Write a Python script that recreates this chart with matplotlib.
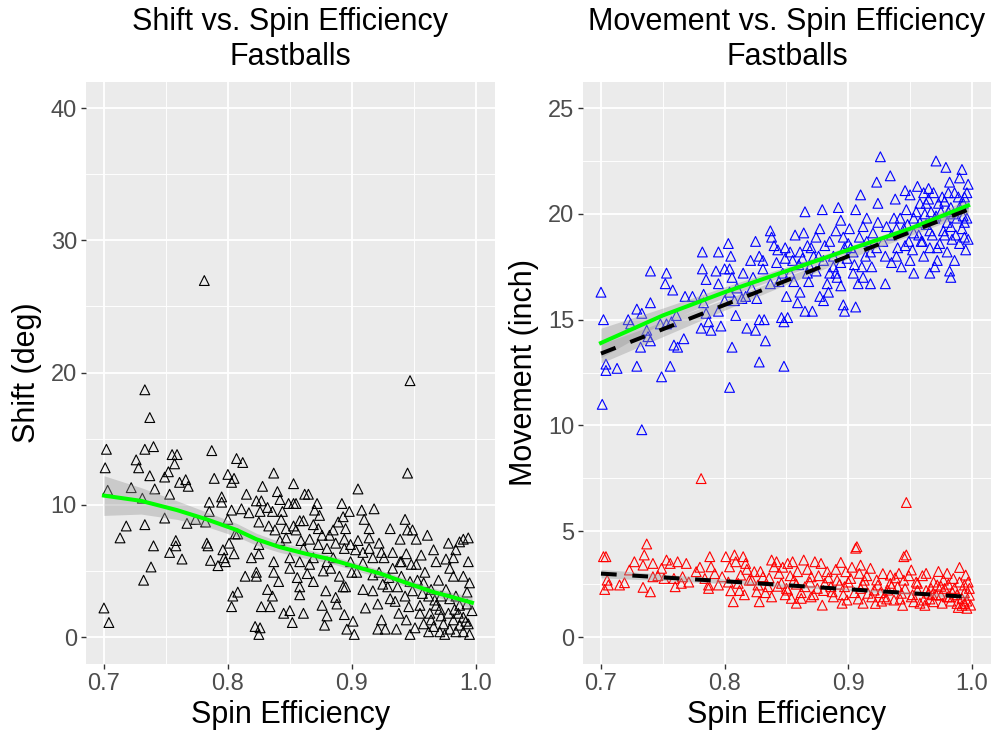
#!/usr/bin/env python3

"""
Shift and movement vs. spin efficiency for fastballs, ggplot-like look.
"""

import numpy as np
import matplotlib
matplotlib.use("Agg")
import matplotlib.pyplot as plt


FIGSIZE = (9.95, 7.31)
DPI = 100

X_TICKS = [0.7, 0.8, 0.9, 1.0]
X_TICK_LABELS = ["0.7", "0.8", "0.9", "1.0"]
SHIFT_TICKS = [0, 10, 20, 30, 40]
MOVE_TICKS = [0, 5, 10, 15, 20, 25]

# (spin efficiency, shift deg)
SHIFT_PTS = np.array([
    (0.781, 26.96), (0.947, 19.39), (0.733, 18.7), (0.737, 16.6), (0.945, 12.4),
    (0.700, 2.2), (0.704, 1.1), (0.702, 14.2), (0.701, 12.8), (0.703, 11.1),
    (0.740, 14.4), (0.733, 14.2), (0.726, 13.4), (0.728, 12.8), (0.737, 12.2),
    (0.722, 11.3), (0.731, 10.5), (0.741, 11.2), (0.718, 8.4), (0.713, 7.5),
    (0.733, 8.5), (0.740, 6.9), (0.738, 5.3), (0.732, 4.3), (0.749, 9.0),
    (0.749, 12.1), (0.752, 12.5), (0.755, 13.8), (0.759, 13.8), (0.757, 13.1),
    (0.753, 10.8), (0.761, 11.7), (0.766, 11.9), (0.768, 11.4), (0.758, 7.3),
    (0.758, 6.9), (0.753, 6.4), (0.763, 5.9), (0.767, 8.6), (0.774, 8.9),
    (0.782, 8.7), (0.787, 14.1), (0.789, 12.0), (0.785, 10.2), (0.785, 9.5),
    (0.783, 7.1), (0.784, 6.9), (0.786, 5.8), (0.792, 5.4), (0.795, 10.6),
    (0.795, 10.2), (0.800, 12.3), (0.803, 11.7), (0.805, 12.0), (0.807, 13.5),
    (0.812, 13.2), (0.803, 9.6), (0.800, 8.9), (0.796, 6.6), (0.801, 7.1),
    (0.805, 6.3), (0.798, 5.7), (0.797, 6.0), (0.806, 7.8), (0.808, 7.8),
    (0.811, 9.7), (0.815, 10.8), (0.817, 9.4), (0.804, 3.1), (0.803, 2.3),
    (0.808, 3.4), (0.814, 4.6), (0.819, 6.0), (0.823, 4.9), (0.823, 4.6),
    (0.825, 7.0), (0.825, 6.3), (0.823, 10.3), (0.827, 10.3), (0.826, 9.5),
    (0.828, 11.4), (0.825, 8.7), (0.832, 9.8), (0.833, 8.4), (0.836, 9.5),
    (0.837, 12.4), (0.840, 11.0), (0.842, 10.4), (0.844, 9.5), (0.843, 8.9),
    (0.838, 8.1), (0.842, 7.3), (0.847, 8.2), (0.850, 6.0), (0.850, 5.2),
    (0.837, 5.7), (0.837, 4.9), (0.841, 4.2), (0.832, 3.6), (0.836, 3.1),
    (0.834, 2.3), (0.827, 2.3), (0.822, 0.8), (0.826, 0.7), (0.825, 0.2),
    (0.845, 1.8), (0.850, 2.0), (0.852, 1.1), (0.861, 1.8), (0.853, 11.6),
    (0.853, 10.1), (0.849, 10.1), (0.855, 10.1), (0.858, 8.8), (0.862, 10.8),
    (0.865, 10.8), (0.861, 8.8), (0.855, 8.1), (0.859, 7.3), (0.866, 7.4),
    (0.858, 5.7), (0.856, 4.5), (0.858, 3.8), (0.858, 3.2), (0.864, 4.8),
    (0.866, 5.5), (0.869, 4.2), (0.872, 10.1), (0.870, 9.6), (0.874, 9.2),
    (0.873, 8.2), (0.876, 7.7), (0.880, 6.7), (0.877, 5.0), (0.879, 3.5),
    (0.876, 2.4), (0.880, 1.6), (0.878, 0.9), (0.883, 5.2), (0.885, 8.1),
    (0.887, 7.1), (0.889, 8.7), (0.892, 10.1), (0.893, 9.1), (0.895, 8.2),
    (0.898, 9.5), (0.894, 6.7), (0.890, 4.6), (0.893, 3.8), (0.895, 3.8),
    (0.888, 2.5), (0.894, 1.7), (0.896, 0.6), (0.901, 1.2), (0.902, 0.2),
    (0.905, 11.2), (0.908, 9.6), (0.910, 8.9), (0.914, 8.2), (0.918, 9.7),
    (0.903, 6.6), (0.909, 6.4), (0.900, 4.9), (0.904, 4.9), (0.909, 3.6),
    (0.914, 7.5), (0.917, 6.0), (0.917, 3.5), (0.921, 2.5), (0.924, 1.3),
    (0.927, 0.6), (0.921, 0.6), (0.924, 6.4), (0.926, 6.0), (0.931, 8.2),
    (0.933, 6.4), (0.930, 4.5), (0.929, 3.8), (0.935, 2.7), (0.936, 0.6),
    (0.939, 7.4), (0.943, 8.9), (0.945, 8.1), (0.949, 8.1), (0.952, 7.4),
    (0.961, 7.7), (0.940, 5.7), (0.944, 6.3), (0.948, 5.5), (0.952, 5.5),
    (0.956, 6.2), (0.940, 4.6), (0.947, 4.2), (0.938, 1.8), (0.947, 0.2),
    (0.944, 1.3), (0.951, 0.7), (0.955, 2.4), (0.958, 4.1), (0.962, 3.1),
    (0.963, 1.8), (0.962, 0.4), (0.966, 6.6), (0.968, 5.7), (0.970, 4.3),
    (0.967, 2.8), (0.971, 2.1), (0.974, 1.0), (0.975, 0.2), (0.978, 7.1),
    (0.979, 5.2), (0.982, 4.6), (0.984, 6.6), (0.987, 7.2), (0.990, 7.4),
    (0.994, 7.5), (0.994, 5.7), (0.995, 4.1), (0.993, 3.4), (0.997, 2.0),
    (0.994, 1.0), (0.995, 0.2), (0.990, 0.4), (0.984, 0.4), (0.982, 1.3),
    (0.979, 2.9), (0.987, 2.4), (0.990, 4.6), (0.976, 3.6), (0.972, 3.1),
    (0.976, 5.9), (0.982, 6.0), (0.959, 4.9), (0.953, 4.3), (0.964, 3.6),
    (0.968, 2.4), (0.964, 1.3), (0.958, 1.0), (0.990, 1.5), (0.993, 2.5),
    (0.984, 3.1), (0.983, 2.1), (0.978, 1.8), (0.987, 0.9), (0.979, 0.6),
    (0.971, 0.4), (0.869, 8.5), (0.873, 7.0), (0.882, 7.7), (0.885, 6.0),
    (0.894, 7.4), (0.899, 7.0), (0.905, 7.3), (0.899, 5.7), (0.909, 5.6),
    (0.917, 4.7), (0.922, 4.9), (0.925, 4.0), (0.933, 5.2), (0.937, 3.8),
    (0.943, 3.1), (0.949, 3.5), (0.955, 1.8), (0.861, 6.7), (0.853, 8.4),
    (0.847, 7.5), (0.869, 6.0), (0.880, 5.7), (0.914, 6.7), (0.922, 7.1),
    (0.939, 5.7), (0.972, 1.6), (0.986, 1.8), (0.992, 1.2), (0.966, 0.8),
    (0.957, 3.3), (0.946, 2.3), (0.931, 2.9), (0.911, 2.2), (0.887, 3.0),
])

# loess fit of shift, with its standard error band
SHIFT_FIT_X = [0.700, 0.730, 0.759, 0.783, 0.807, 0.823, 0.842, 0.863,
               0.882, 0.904, 0.923, 0.944, 0.966, 0.982, 0.997]
SHIFT_FIT_Y = [10.7, 10.3, 9.6, 8.9, 8.1, 7.4, 6.8, 6.3,
               5.9, 5.3, 4.8, 4.1, 3.4, 3.0, 2.6]
SHIFT_FIT_SE = [1.5, 1.0, 0.7, 0.55, 0.5, 0.45, 0.4, 0.35,
                0.3, 0.3, 0.3, 0.3, 0.3, 0.35, 0.45]

# (spin efficiency, movement inch) - upper group
BLUE_PTS = np.array([
    (0.701, 11.0), (0.733, 9.8), (0.804, 11.8), (0.700, 16.3), (0.702, 15.0),
    (0.704, 12.9), (0.704, 12.6), (0.713, 12.7), (0.729, 12.8), (0.749, 12.3),
    (0.756, 12.8), (0.828, 13.0), (0.848, 12.8), (0.806, 13.7), (0.732, 13.7),
    (0.740, 14.0), (0.738, 14.2), (0.759, 13.8), (0.762, 13.7), (0.767, 14.1),
    (0.737, 14.5), (0.722, 15.0), (0.724, 14.8), (0.729, 15.5), (0.733, 15.3),
    (0.740, 15.8), (0.740, 17.3), (0.753, 17.2), (0.752, 16.7), (0.758, 16.4),
    (0.748, 14.8), (0.753, 14.8), (0.757, 14.9), (0.761, 15.2), (0.768, 16.1),
    (0.774, 16.1), (0.782, 18.2), (0.782, 17.4), (0.785, 16.9), (0.783, 16.2),
    (0.783, 15.8), (0.785, 15.3), (0.781, 14.6), (0.787, 14.9), (0.789, 14.5),
    (0.795, 18.2), (0.793, 17.3), (0.795, 16.7), (0.795, 15.4), (0.797, 14.7),
    (0.803, 18.6), (0.805, 18.0), (0.800, 17.4), (0.804, 17.4), (0.806, 17.0),
    (0.804, 16.3), (0.808, 15.9), (0.809, 15.2), (0.800, 15.9), (0.815, 17.2),
    (0.814, 16.0), (0.818, 14.6), (0.821, 17.8), (0.822, 16.5), (0.825, 18.7),
    (0.825, 14.5), (0.828, 15.0), (0.826, 16.0), (0.828, 18.0), (0.831, 17.4),
    (0.833, 14.0), (0.832, 15.0), (0.837, 19.2), (0.838, 18.9), (0.840, 18.5),
    (0.837, 16.7), (0.842, 17.7), (0.844, 16.8), (0.846, 15.1), (0.848, 14.9),
    (0.851, 15.1), (0.850, 16.1), (0.849, 17.9), (0.849, 18.4), (0.853, 17.2),
    (0.856, 16.8), (0.859, 15.8), (0.861, 16.3), (0.857, 19.0), (0.861, 18.2),
    (0.864, 19.1), (0.865, 20.1), (0.867, 18.5), (0.869, 17.5), (0.871, 15.4),
    (0.865, 15.4), (0.872, 18.0), (0.874, 18.9), (0.877, 19.3), (0.879, 20.2),
    (0.881, 18.5), (0.883, 16.7), (0.877, 16.1), (0.880, 15.9), (0.885, 17.2),
    (0.888, 18.0), (0.890, 19.2), (0.892, 20.3), (0.894, 19.7), (0.896, 18.9),
    (0.894, 16.6), (0.896, 15.7), (0.897, 15.4), (0.899, 17.9), (0.901, 19.3),
    (0.902, 18.4), (0.904, 17.2), (0.906, 20.2), (0.906, 15.6), (0.908, 16.7),
    (0.910, 20.9), (0.912, 19.4), (0.914, 18.0), (0.918, 16.7), (0.919, 17.5),
    (0.920, 19.1), (0.923, 21.5), (0.924, 20.5), (0.926, 22.7), (0.924, 19.6),
    (0.928, 18.7), (0.930, 18.0), (0.930, 16.7), (0.934, 21.8), (0.935, 17.7),
    (0.938, 20.7), (0.939, 19.3), (0.940, 18.4), (0.943, 17.5), (0.946, 21.1),
    (0.947, 20.2), (0.949, 18.7), (0.950, 17.8), (0.953, 17.2), (0.956, 21.3),
    (0.958, 19.6), (0.959, 18.7), (0.961, 18.0), (0.963, 20.5), (0.965, 21.2),
    (0.966, 19.2), (0.969, 21.0), (0.971, 22.5), (0.970, 17.5), (0.971, 19.9),
    (0.974, 18.6), (0.976, 20.8), (0.979, 22.2), (0.980, 19.6), (0.982, 17.3),
    (0.983, 17.0), (0.982, 21.5), (0.984, 18.8), (0.986, 21.0), (0.990, 21.7),
    (0.992, 22.1), (0.993, 20.5), (0.994, 19.6), (0.995, 18.3), (0.996, 21.0),
    (0.997, 21.4), (0.994, 18.9), (0.988, 19.8), (0.981, 20.1), (0.977, 19.2),
    (0.966, 18.4), (0.958, 20.5), (0.953, 19.1), (0.945, 19.3), (0.937, 19.8),
    (0.931, 19.4), (0.923, 18.4), (0.915, 18.7), (0.911, 17.5), (0.904, 18.2),
    (0.900, 18.6), (0.894, 17.7), (0.890, 17.2), (0.885, 18.7), (0.880, 17.8),
    (0.874, 17.3), (0.870, 18.4), (0.867, 17.2), (0.863, 17.9), (0.853, 18.2),
    (0.847, 17.2), (0.843, 18.3), (0.831, 17.8), (0.823, 17.0), (0.817, 16.1),
    (0.810, 16.5), (0.962, 20.0), (0.967, 20.1), (0.973, 20.5), (0.978, 20.6),
    (0.983, 20.3), (0.989, 20.8), (0.993, 19.9), (0.953, 19.8), (0.946, 18.5),
    (0.939, 18.0), (0.950, 20.9), (0.961, 21.0), (0.990, 18.6), (0.980, 18.2),
    (0.966, 17.2), (0.915, 19.8), (0.909, 18.9), (0.897, 18.4), (0.891, 17.0),
    (0.884, 16.3), (0.935, 19.0), (0.942, 19.8), (0.948, 19.5), (0.952, 18.3),
    (0.955, 20.1), (0.957, 19.0), (0.960, 18.7), (0.963, 19.5), (0.965, 20.7),
    (0.968, 19.0), (0.970, 19.8), (0.972, 18.4), (0.975, 20.1), (0.978, 19.0),
    (0.981, 21.0), (0.983, 19.4), (0.985, 20.0), (0.987, 19.0), (0.990, 20.3),
    (0.992, 19.3), (0.994, 20.8), (0.996, 19.8), (0.997, 18.8), (0.986, 17.8),
    (0.972, 17.8), (0.918, 18.2), (0.912, 17.0), (0.905, 17.6), (0.888, 17.5),
    (0.876, 18.0), (0.868, 16.8), (0.860, 17.6), (0.855, 17.8),
])

# (spin efficiency, movement inch) - lower group
RED_PTS = np.array([
    (0.781, 7.49), (0.947, 6.36), (0.737, 4.4), (0.906, 4.2), (0.945, 3.8),
    (0.702, 3.8), (0.704, 3.80), (0.703, 2.25), (0.706, 2.46), (0.705, 2.69),
    (0.715, 2.46), (0.719, 2.57), (0.727, 3.56), (0.723, 3.17), (0.734, 2.35),
    (0.735, 3.88), (0.740, 2.14), (0.742, 2.85), (0.742, 3.48), (0.734, 3.40),
    (0.749, 3.25), (0.753, 3.64), (0.751, 2.77), (0.756, 3.48), (0.759, 2.77),
    (0.760, 2.38), (0.762, 3.56), (0.766, 2.85), (0.769, 3.48), (0.765, 2.54),
    (0.777, 3.09), (0.784, 2.77), (0.787, 2.46), (0.788, 3.80), (0.789, 3.32),
    (0.787, 2.30), (0.795, 2.46), (0.798, 2.85), (0.801, 3.80), (0.804, 3.32),
    (0.805, 2.19), (0.807, 1.67), (0.808, 3.88), (0.809, 3.56), (0.811, 2.54),
    (0.815, 3.80), (0.817, 3.48), (0.813, 2.93), (0.820, 2.69), (0.824, 3.09),
    (0.826, 2.14), (0.828, 1.67), (0.827, 2.46), (0.831, 2.85), (0.835, 2.38),
    (0.838, 3.64), (0.840, 3.32), (0.842, 3.56), (0.844, 3.01), (0.846, 2.54),
    (0.838, 1.90), (0.850, 2.30), (0.907, 4.27), (0.947, 3.88), (0.851, 3.48),
    (0.855, 3.56), (0.864, 3.64), (0.873, 3.56), (0.878, 3.48), (0.894, 3.53),
    (0.910, 3.40), (0.918, 3.25), (0.934, 2.93), (0.951, 3.17), (0.963, 3.01),
    (0.990, 3.29), (0.995, 2.93), (0.879, 1.51), (0.922, 1.59), (0.854, 1.83),
    (0.862, 1.83), (0.887, 2.14), (0.899, 1.75), (0.916, 2.07), (0.929, 1.90),
    (0.940, 2.38), (0.951, 1.90), (0.961, 1.75), (0.972, 2.46), (0.980, 1.90),
    (0.988, 1.59), (0.996, 1.36), (0.999, 1.51), (0.856, 2.69), (0.870, 2.85),
    (0.881, 2.54), (0.891, 2.69), (0.902, 2.77), (0.913, 2.69), (0.924, 2.46),
    (0.934, 2.54), (0.945, 2.69), (0.956, 2.54), (0.967, 2.30), (0.977, 2.69),
    (0.985, 2.77), (0.994, 2.46), (0.998, 1.98), (0.992, 1.83), (0.984, 2.14),
    (0.975, 1.98), (0.965, 2.07), (0.956, 2.22), (0.943, 2.07), (0.932, 2.22),
    (0.921, 2.22), (0.910, 2.30), (0.897, 2.38), (0.886, 2.38), (0.875, 2.30),
    (0.865, 2.38), (0.851, 2.22), (0.859, 3.09), (0.883, 3.09), (0.898, 3.09),
    (0.909, 3.01), (0.941, 3.01), (0.980, 3.01), (0.969, 1.67), (0.953, 1.67),
    (0.937, 1.75), (0.994, 1.59), (0.998, 2.30), (0.853, 2.9), (0.858, 2.5),
    (0.862, 2.1), (0.867, 3.2), (0.869, 2.6), (0.872, 2.0), (0.876, 2.9),
    (0.880, 2.2), (0.884, 2.8), (0.888, 1.9), (0.890, 3.2), (0.893, 2.5),
    (0.896, 2.0), (0.900, 2.6), (0.903, 3.3), (0.905, 2.1), (0.908, 1.8),
    (0.912, 2.5), (0.915, 2.9), (0.919, 1.9), (0.923, 2.7), (0.926, 2.1),
    (0.928, 3.0), (0.931, 1.8), (0.935, 2.4), (0.938, 2.8), (0.942, 1.8),
    (0.946, 2.3), (0.949, 2.9), (0.952, 2.0), (0.955, 2.6), (0.958, 1.6),
    (0.960, 2.9), (0.963, 2.2), (0.966, 1.8), (0.969, 2.6), (0.971, 2.0),
    (0.973, 3.1), (0.976, 1.6), (0.978, 2.3), (0.981, 2.5), (0.983, 1.7),
    (0.986, 2.3), (0.988, 2.0), (0.990, 2.6), (0.992, 1.5), (0.994, 2.1),
    (0.996, 1.7), (0.997, 2.6), (0.989, 1.4), (0.982, 1.9), (0.975, 2.4),
    (0.968, 2.0), (0.962, 1.5), (0.944, 1.5), (0.927, 1.7), (0.912, 1.6),
    (0.895, 1.6), (0.870, 1.9), (0.858, 1.6), (0.746, 2.9), (0.771, 2.6),
    (0.780, 3.3), (0.792, 3.0), (0.812, 2.2), (0.818, 3.2), (0.822, 2.7),
    (0.829, 3.1), (0.833, 2.1), (0.836, 2.8), (0.843, 2.4), (0.847, 3.3),
    (0.849, 2.0), (0.816, 2.0), (0.803, 2.6),
])

# fits on the movement panel
BLUE_LOESS_X = [0.70, 0.75, 0.80, 0.85, 0.90, 0.95, 0.997]
BLUE_LOESS_Y = [13.9, 15.2, 16.3, 17.3, 18.3, 19.3, 20.4]
BLUE_LOESS_SE = [0.7, 0.35, 0.25, 0.2, 0.15, 0.15, 0.3]

BLUE_LM_X = [0.70, 0.80, 0.90, 0.997]
BLUE_LM_Y = [13.4, 15.7, 18.0, 20.2]
BLUE_LM_SE = [0.45, 0.25, 0.12, 0.2]

RED_LM_X = [0.70, 0.80, 0.90, 0.997]
RED_LM_Y = [3.0, 2.64, 2.26, 1.9]
RED_LM_SE = [0.2, 0.1, 0.05, 0.08]

BG = "#EBEBEB"
RIBBON = "#999999"
MARKER_SIZE = 50


def style(ax, yticks, minor_step, ylim):
    ax.set_facecolor(BG)
    for sp in ax.spines.values():
        sp.set_visible(False)
    ax.set_xlim(0.6855, 1.0155)
    ax.set_ylim(*ylim)
    ax.set_xticks(X_TICKS)
    ax.set_xticklabels(X_TICK_LABELS)
    ax.set_yticks(yticks)
    ax.set_xticks([0.75, 0.85, 0.95], minor=True)
    ax.set_yticks(np.arange(minor_step, yticks[-1], 2 * minor_step), minor=True)
    ax.grid(which="major", color="white", lw=1.3)
    ax.grid(which="minor", color="white", lw=0.65)
    ax.set_axisbelow(True)
    ax.tick_params(which="minor", length=0)
    ax.tick_params(which="major", length=3.5, width=1.0, color="#333333",
                   labelcolor="#4D4D4D", labelsize=17, pad=3)


def ribbon(ax, x, y, se):
    y = np.asarray(y)
    se = np.asarray(se)
    ax.fill_between(x, y - se, y + se, color=RIBBON, alpha=0.4, lw=0, zorder=3)


def main():
    plt.rcParams["font.family"] = ["Liberation Sans", "DejaVu Sans"]
    fig = plt.figure(figsize=FIGSIZE, dpi=DPI)

    ax1 = fig.add_axes([0.0864, 0.0923, 0.411, 0.796])
    style(ax1, SHIFT_TICKS, 5, (-2, 42))
    ax1.scatter(SHIFT_PTS[:, 0], SHIFT_PTS[:, 1], marker="^", s=MARKER_SIZE,
                facecolors="none", edgecolors="black", linewidths=0.8, zorder=2)
    ribbon(ax1, SHIFT_FIT_X, SHIFT_FIT_Y, SHIFT_FIT_SE)
    ax1.plot(SHIFT_FIT_X, SHIFT_FIT_Y, color="#00FF00", lw=2.9, zorder=4)
    ax1.set_title("Shift vs. Spin Efficiency\nFastballs", fontsize=22, pad=12)
    ax1.set_xlabel("Spin Efficiency", fontsize=22, labelpad=4)
    ax1.set_ylabel("Shift (deg)", fontsize=22, labelpad=6)

    ax2 = fig.add_axes([0.586, 0.0923, 0.410, 0.796])
    style(ax2, MOVE_TICKS, 2.5, (-1.25, 26.25))
    ax2.scatter(BLUE_PTS[:, 0], BLUE_PTS[:, 1], marker="^", s=MARKER_SIZE,
                facecolors="none", edgecolors="#0000FF", linewidths=0.8, zorder=2)
    ax2.scatter(RED_PTS[:, 0], RED_PTS[:, 1], marker="^", s=MARKER_SIZE,
                facecolors="none", edgecolors="#FF0000", linewidths=0.8, zorder=2)
    ribbon(ax2, BLUE_LOESS_X, BLUE_LOESS_Y, BLUE_LOESS_SE)
    ribbon(ax2, BLUE_LM_X, BLUE_LM_Y, BLUE_LM_SE)
    ribbon(ax2, RED_LM_X, RED_LM_Y, RED_LM_SE)
    ax2.plot(BLUE_LOESS_X, BLUE_LOESS_Y, color="#00FF00", lw=2.9, zorder=4)
    ax2.plot(BLUE_LM_X, BLUE_LM_Y, color="black", lw=2.9, zorder=5,
             dashes=(3.9, 3.9))
    ax2.plot(RED_LM_X, RED_LM_Y, color="black", lw=2.9, zorder=5,
             dashes=(3.9, 3.9))
    ax2.set_title("Movement vs. Spin Efficiency\nFastballs", fontsize=22, pad=12)
    ax2.set_xlabel("Spin Efficiency", fontsize=22, labelpad=4)
    ax2.set_ylabel("Movement (inch)", fontsize=22, labelpad=6)

    fig.savefig("out.png", dpi=DPI)


if __name__ == "__main__":
    main()
